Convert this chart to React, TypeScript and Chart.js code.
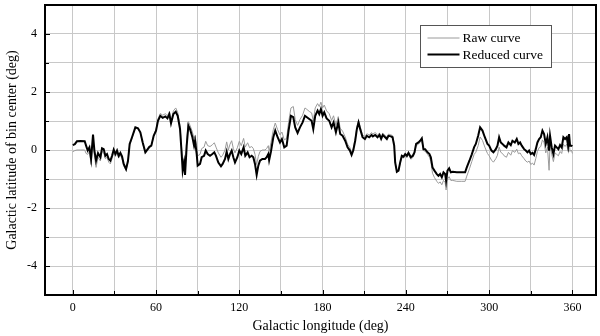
import React, { useEffect, useRef } from 'react';
import { Chart, registerables } from 'chart.js';

Chart.register(...registerables);

const longitude = [
  0, 1.5, 3, 5.5, 8.6, 9.6, 10.8, 12, 13.2, 14.6, 15.6, 16.8, 18.2, 19.9, 21.1, 22.3, 23.5, 24.7, 25.9, 27.1,
  28.3, 29.5, 30.7, 31.9, 33.1, 34.3, 35.5, 36.7, 38.4, 39.8, 41, 42.7, 45.1, 47, 48.7, 50.4, 52.3, 54, 55.2, 56.6,
  58.3, 60, 61.4, 63.1, 64.8, 66.7, 68.2, 69.6, 70.8, 72.5, 74.2, 75.6, 77.3, 78.5, 79.2, 80.2, 80.9, 82.1, 83.3, 84.5,
  86.2, 87.4, 88.1, 89.3, 90, 91.7, 92.9, 94.6, 95.8, 97.2, 98.9, 100.6, 102, 103.2, 104.9, 106.8, 108, 109.7, 110.9, 112.1,
  113.3, 114.5, 115.7, 116.9, 118.6, 120, 121.4, 123.1, 124.3, 126, 127.4, 128.9, 130.1, 131.3, 132.5, 133.7, 134.9, 136.6, 138.5, 139.7,
  140.9, 141.5, 142.8, 144.5, 145.9, 147.6, 149.3, 150.7, 152.4, 154.1, 155.5, 157.2, 158.9, 160.3, 162, 163.7, 165.6, 167.3, 168.7, 170.4,
  172.1, 173.3, 174.7, 176.4, 177.6, 178.8, 180, 181.2, 182.9, 184.8, 186.5, 187.9, 189.6, 191.3, 192.7, 194.4, 196.3, 198, 199.7, 200.9,
  202.1, 203.5, 204.7, 205.9, 207.1, 208.8, 210.5, 211.9, 213.6, 215.3, 216.2, 217.9, 219.6, 221, 222.2, 223.4, 225.1, 226.3, 227.5, 229.2,
  230.4, 231.6, 232.3, 233.5, 234.7, 235.9, 237.1, 238.3, 239.5, 240.7, 241.9, 243.6, 245, 246.2, 247.4, 249.1, 250.3, 251.5, 252.7, 253.9,
  255.6, 257, 258, 259.2, 260.6, 262.3, 263.5, 264.7, 265.9, 267.1, 268.3, 269, 270, 271.2, 272.4, 273.8, 276.7, 280.3, 282.7, 283.9,
  285.8, 287.5, 289.2, 290.4, 292.1, 293.5, 295.2, 296.9, 298.8, 300, 301.7, 303.1, 304.8, 306, 307.2, 308.4, 309.6, 310.8, 312.5, 313.9,
  315.6, 316.8, 318.5, 319.9, 321.1, 322.3, 323.5, 325.2, 326.4, 327.6, 328.8, 330, 331.2, 332.4, 333.6, 334.8, 336, 337.2, 338.4, 339.6,
  340.8, 342, 343.2, 343.9, 345.1, 346.3, 347.5, 348.7, 349.9, 351.1, 352.3, 353.5, 354.7, 355.9, 356.9, 357.6, 358.3, 359.3, 360,
];

const reducedCurve = [
  0.17, 0.2, 0.3, 0.31, 0.3, 0.15, -0.02, 0.09, -0.31, 0.53, -0.02, -0.37, -0.11, -0.25, 0.06, 0.03, -0.2, -0.14, -0.31, -0.37,
  -0.2, 0.01, -0.14, -0.02, -0.2, -0.1, -0.22, -0.48, -0.66, -0.37, 0.21, 0.44, 0.78, 0.75, 0.61, 0.26, -0.08, 0.03, 0.11, 0.15,
  0.49, 0.67, 1.01, 1.18, 1.11, 1.16, 1.09, 1.24, 0.92, 1.24, 1.32, 1.18, 0.72, -0.14, -0.71, -0.43, -0.86, 0.15, 0.84, 0.72,
  0.44, 0.15, 0.32, -0.14, -0.54, -0.48, -0.25, -0.2, -0.02, -0.14, -0.2, -0.14, -0.08, -0.2, -0.43, -0.56, -0.48, -0.31, -0.06, -0.31,
  -0.14, -0.02, -0.25, -0.43, -0.25, -0.02, -0.14, 0.09, -0.2, -0.08, -0.25, -0.2, -0.25, -0.48, -0.86, -0.54, -0.37, -0.31, -0.31, -0.25,
  -0.14, -0.35, -0.05, 0.44, 0.67, 0.44, 0.26, 0.38, 0.09, 0.15, 0.67, 1.18, 1.13, 0.78, 0.59, 0.78, 0.95, 1.18, 1.13, 1.07,
  1.01, 0.72, 1.18, 1.36, 1.24, 1.41, 1.18, 1.3, 1.09, 1.01, 0.78, 0.95, 0.61, 0.95, 0.55, 0.49, 0.32, 0.09, -0.02, -0.17,
  -0.02, 0.32, 0.72, 0.95, 0.72, 0.44, 0.38, 0.49, 0.44, 0.52, 0.47, 0.52, 0.44, 0.52, 0.38, 0.52, 0.44, 0.38, 0.49, 0.47,
  0.44, 0.15, -0.43, -0.75, -0.71, -0.43, -0.2, -0.23, -0.14, -0.2, -0.1, -0.25, -0.2, -0.08, 0.21, 0.26, 0.32, 0.4, 0.03, 0.03,
  -0.08, -0.14, -0.25, -0.6, -0.71, -0.83, -0.89, -0.83, -0.94, -0.77, -0.83, -1.06, -0.71, -0.63, -0.77, -0.75, -0.77, -0.77, -0.77, -0.6,
  -0.37, -0.15, 0.1, 0.21, 0.49, 0.78, 0.67, 0.44, 0.21, 0.15, -0.02, -0.08, 0.03, 0.15, 0.44, 0.26, 0.21, 0.15, 0.09, 0.26,
  0.17, 0.32, 0.26, 0.38, 0.21, 0.26, 0.15, 0.03, -0.02, -0.08, -0.02, -0.14, -0.1, -0.17, 0.03, 0.26, 0.38, 0.44, 0.67, 0.55,
  0.21, 0.44, -0.02, 0.49, 0.09, -0.14, 0.15, 0.09, 0.03, 0.17, 0.09, 0.44, 0.38, 0.44, 0.15, 0.55, 0.15, 0.15, 0.13,
];

const rawCurve = [
  -0.06, -0.02, 0.0, 0.0, 0.0, -0.12, -0.15, -0.05, -0.5, 0.35, -0.2, -0.6, -0.25, -0.38, -0.05, -0.1, -0.3, -0.25, -0.42, -0.48,
  -0.3, -0.08, -0.22, -0.1, -0.28, -0.18, -0.3, -0.55, -0.7, -0.42, 0.17, 0.4, 0.76, 0.73, 0.58, 0.22, -0.12, 0.0, 0.08, 0.13,
  0.5, 0.72, 1.08, 1.26, 1.2, 1.25, 1.18, 1.32, 1.0, 1.35, 1.45, 1.3, 0.85, 0.0, -0.5, -0.3, -0.6, 0.35, 0.98, 0.85,
  0.62, 0.4, 0.5, 0.15, -0.2, -0.15, 0.05, 0.1, 0.3, 0.15, 0.12, 0.18, 0.25, 0.1, -0.1, -0.25, -0.18, 0.0, 0.28, 0.0,
  0.2, 0.32, 0.05, -0.1, 0.08, 0.3, 0.15, 0.4, 0.1, 0.25, 0.08, 0.12, 0.05, -0.15, -0.5, -0.22, -0.05, 0.0, 0.0, 0.05,
  0.15, -0.05, 0.25, 0.7, 0.93, 0.7, 0.52, 0.62, 0.35, 0.4, 0.95, 1.45, 1.5, 1.05, 0.85, 1.05, 1.2, 1.45, 1.4, 1.33,
  1.28, 1.0, 1.45, 1.6, 1.5, 1.65, 1.45, 1.55, 1.35, 1.25, 1.02, 1.18, 0.85, 1.15, 0.75, 0.65, 0.45, 0.2, 0.08, -0.08,
  0.06, 0.4, 0.8, 1.02, 0.8, 0.52, 0.46, 0.56, 0.52, 0.6, 0.55, 0.6, 0.52, 0.58, 0.45, 0.58, 0.5, 0.45, 0.55, 0.52,
  0.5, 0.2, -0.4, -0.75, -0.72, -0.45, -0.25, -0.28, -0.2, -0.26, -0.16, -0.32, -0.26, -0.14, 0.15, 0.2, 0.27, 0.35, -0.02, -0.04,
  -0.15, -0.25, -0.4, -0.8, -0.95, -1.08, -1.15, -1.1, -1.2, -1.05, -1.12, -1.38, -1.0, -0.92, -1.05, -1.05, -1.08, -1.08, -1.08, -0.9,
  -0.65, -0.4, -0.15, -0.08, 0.15, 0.45, 0.33, 0.1, -0.12, -0.2, -0.35, -0.42, -0.3, -0.18, 0.1, -0.08, -0.12, -0.2, -0.25, -0.08,
  -0.18, -0.02, -0.08, 0.03, -0.13, -0.1, -0.2, -0.3, -0.38, -0.42, -0.38, -0.5, -0.45, -0.52, -0.3, -0.05, 0.08, 0.12, 0.35, 0.25,
  -0.1, 0.1, -0.7, 0.2, -0.15, -0.4, -0.1, -0.15, -0.2, -0.05, -0.12, 0.2, 0.12, 0.2, -0.05, 0.3, -0.05, 0.0, -0.12,
];

const seriesLabels = ['Raw curve', 'Reduced curve'];
const xGridValues = [0, 30, 60, 90, 120, 150, 180, 210, 240, 270, 300, 330, 360];
const xTickLabels = ['0', '60', '120', '180', '240', '300', '360'];
const yGridValues = [-5, -4, -3, -2, -1, 0, 1, 2, 3, 4, 5];
const yTickLabels = ['-4', '-2', '0', '2', '4'];
const xTitle = 'Galactic longitude (deg)';
const yTitle = 'Galactic latitude of bin center (deg)';

const FONT = "'Liberation Serif', 'Times New Roman', serif";

const framePlugin = {
  id: 'frameTicks',
  afterDatasetsDraw(chart: any) {
    const { ctx, chartArea: a, scales } = chart;
    ctx.save();
    ctx.strokeStyle = '#000';
    ctx.lineWidth = 1;
    xGridValues.forEach((v) => {
      const px = Math.round(scales.x.getPixelForValue(v)) + 0.5;
      const len = xTickLabels.includes(String(v)) ? 5 : 4;
      ctx.beginPath();
      ctx.moveTo(px, a.bottom);
      ctx.lineTo(px, a.bottom - len);
      ctx.stroke();
    });
    yGridValues.forEach((v) => {
      const py = Math.round(scales.y.getPixelForValue(v)) + 0.5;
      const len = yTickLabels.includes(String(v)) ? 5 : 4;
      ctx.beginPath();
      ctx.moveTo(a.left, py);
      ctx.lineTo(a.left + len, py);
      ctx.stroke();
    });
    ctx.lineWidth = 2;
    ctx.strokeRect(a.left, a.top, a.right - a.left, a.bottom - a.top);

    // legend
    const bx = a.right - 175.5;
    const by = a.top + 20.5;
    const bw = 131;
    const bh = 42;
    ctx.fillStyle = '#fff';
    ctx.fillRect(bx, by, bw, bh);
    ctx.strokeStyle = '#555';
    ctx.lineWidth = 1;
    ctx.strokeRect(bx, by, bw, bh);
    const dsList = chart.data.datasets;
    ctx.font = `13.5px ${FONT}`;
    ctx.textBaseline = 'middle';
    ctx.textAlign = 'left';
    dsList.forEach((ds: any, i: number) => {
      const ly = by + 12.5 + i * 16.5;
      ctx.strokeStyle = ds.borderColor;
      ctx.lineWidth = ds.borderWidth;
      ctx.beginPath();
      ctx.moveTo(bx + 7, ly);
      ctx.lineTo(bx + 39, ly);
      ctx.stroke();
      ctx.fillStyle = '#000';
      ctx.fillText(ds.label, bx + 42, ly + 0.5);
    });
    ctx.restore();
  },
};

export default function App() {
  const ref = useRef<HTMLCanvasElement | null>(null);

  useEffect(() => {
    if (!ref.current) return;
    const rawPts = longitude.map((x, i) => ({ x, y: rawCurve[i] }));
    const redPts = longitude.map((x, i) => ({ x, y: reducedCurve[i] }));
    const chart = new Chart(ref.current, {
      type: 'line',
      data: {
        datasets: [
          {
            label: seriesLabels[0],
            data: rawPts,
            borderColor: '#9a9a9a',
            borderWidth: 1,
            pointRadius: 0,
            tension: 0,
            order: 2,
          },
          {
            label: seriesLabels[1],
            data: redPts,
            borderColor: '#000000',
            borderWidth: 2,
            pointRadius: 0,
            tension: 0,
            order: 1,
          },
        ],
      },
      options: {
        animation: false,
        responsive: false,
        layout: { padding: { top: 5, right: 4, left: 0, bottom: 0 } },
        plugins: { legend: { display: false }, tooltip: { enabled: false } },
        scales: {
          x: {
            type: 'linear',
            min: -20,
            max: 377,
            afterBuildTicks: (scale: any) => {
              scale.ticks = xGridValues.map((v) => ({ value: v }));
            },
            afterFit: (scale: any) => {
              scale.height = 41;
              scale.paddingLeft = 0;
              scale.paddingRight = 0;
            },
            grid: { color: '#c8c8c8', lineWidth: 1, drawTicks: false },
            border: { display: false },
            ticks: {
              autoSkip: false,
              maxRotation: 0,
              padding: 6,
              color: '#000',
              font: { family: FONT, size: 12 },
              callback: (v: any) => (xTickLabels.includes(String(v)) ? String(v) : ''),
            },
            title: {
              display: true,
              text: xTitle,
              color: '#000',
              font: { family: FONT, size: 14 },
              padding: { top: 0, bottom: 1 },
            },
          },
          y: {
            type: 'linear',
            min: -5,
            max: 5,
            afterBuildTicks: (scale: any) => {
              scale.ticks = yGridValues.map((v) => ({ value: v }));
            },
            afterFit: (scale: any) => {
              scale.width = 45;
              scale.paddingTop = 0;
              scale.paddingBottom = 0;
            },
            grid: { color: '#c8c8c8', lineWidth: 1, drawTicks: false },
            border: { display: false },
            ticks: {
              autoSkip: false,
              padding: 8,
              color: '#000',
              font: { family: FONT, size: 12 },
              callback: (v: any) => (yTickLabels.includes(String(v)) ? String(v) : ''),
            },
            title: {
              display: true,
              text: yTitle,
              color: '#000',
              font: { family: FONT, size: 14 },
              padding: { top: 4, bottom: 0 },
            },
          },
        },
      },
      plugins: [framePlugin],
    });
    return () => chart.destroy();
  }, []);

  return (
    <div style={{ position: 'absolute', left: 0, top: 0, width: 600, height: 336, background: '#fff' }}>
      <canvas ref={ref} width={600} height={336} style={{ display: 'block' }} />
    </div>
  );
}
